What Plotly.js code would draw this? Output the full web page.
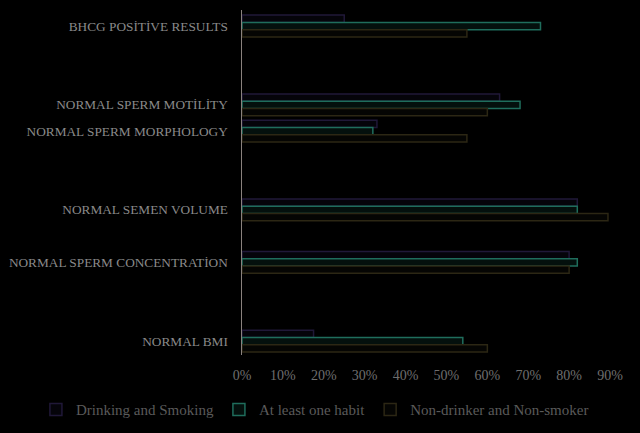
<!DOCTYPE html>
<html>
<head>
<meta charset="utf-8">
<script src="https://cdn.plot.ly/plotly-3.0.1.min.js"></script>
<style>html,body{margin:0;padding:0;background:#000;}#chart{width:640px;height:433px;}</style>
</head>
<body>
<div id="chart"></div>
<script>
// Data
var categories = [
  'BHCG POSİTİVE RESULTS',
  'NORMAL SPERM MOTİLİTY',
  'NORMAL SPERM MORPHOLOGY',
  'NORMAL SEMEN VOLUME',
  'NORMAL SPERM CONCENTRATİON',
  'NORMAL BMI'
];
var drinkingSmoking = [0.25, 0.63, 0.33, 0.82, 0.80, 0.175];
var atLeastOneHabit = [0.73, 0.68, 0.32, 0.82, 0.82, 0.54];
var nonDrinkerNonSmoker = [0.55, 0.60, 0.55, 0.895, 0.80, 0.60];
var seriesNames = ['Drinking and Smoking', 'At least one habit', 'Non-drinker and Non-smoker'];
var xTickVals = [0, 0.1, 0.2, 0.3, 0.4, 0.5, 0.6, 0.7, 0.8, 0.9];

// Axis slot order (blank slots reproduce the uneven spacing of the original)
function blank(n){ return '\u200b'.repeat(n); }
var slotOrder = [
  categories[0], blank(1), blank(2),
  categories[1], categories[2], blank(3), blank(4),
  categories[3], blank(5),
  categories[4], blank(6), blank(7),
  categories[5]
];

var serif = '"Liberation Serif", "DejaVu Serif", serif';

var traces = [
  {name: seriesNames[0], x: drinkingSmoking, fill: '#05040a', line: '#201838'},
  {name: seriesNames[1], x: atLeastOneHabit, fill: '#04100d', line: '#1f6d5c'},
  {name: seriesNames[2], x: nonDrinkerNonSmoker, fill: '#050503', line: '#2c2714'}
].map(function(s){
  return {
    type: 'bar', orientation: 'h', name: s.name,
    x: s.x, y: categories,
    marker: {color: s.fill, line: {color: s.line, width: 1.5}},
    hoverinfo: 'x+y'
  };
});

var layout = {
  width: 640, height: 433,
  paper_bgcolor: '#000', plot_bgcolor: '#000',
  margin: {l: 242, r: 30, t: 10, b: 78, autoexpand: false},
  barmode: 'group', bargap: 0.17, bargroupgap: 0,
  showlegend: true,
  legend: {
    orientation: 'h',
    x: -0.56, xanchor: 'left', y: -0.159, yanchor: 'middle',
    font: {family: serif, size: 15, color: '#5a5a5a'},
    itemwidth: 30, traceorder: 'normal', bgcolor: 'rgba(0,0,0,0)'
  },
  xaxis: {
    range: [0, 0.9], tickvals: xTickVals, tickformat: '.0%',
    showgrid: false, zeroline: false, showline: false, ticks: '',
    ticklabelstandoff: 10,
    tickfont: {family: serif, size: 14, color: '#6e6e6e'},
    fixedrange: true
  },
  yaxis: {
    type: 'category', categoryorder: 'array', categoryarray: slotOrder,
    range: [12.53, -0.61],
    showgrid: false, zeroline: false, showline: true,
    linecolor: '#8a827e', linewidth: 1.5, ticks: '',
    ticklabelstandoff: 10,
    tickfont: {family: serif, size: 13.3, color: '#8a8a8a'},
    fixedrange: true
  }
};

Plotly.newPlot('chart', traces, layout, {displayModeBar: false, staticPlot: true});
</script>
</body>
</html>
